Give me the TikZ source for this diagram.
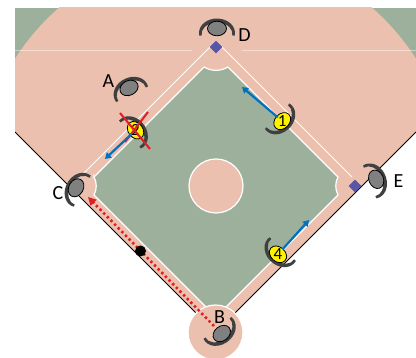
\documentclass[tikz,border=0pt]{standalone}
\usepackage{fontspec}
\setmainfont{Carlito}
\usetikzlibrary{arrows.meta}
\definecolor{grass}{RGB}{157,176,155}
\definecolor{dirt}{RGB}{236,192,174}
\definecolor{bagblue}{RGB}{90,86,166}
\definecolor{armgrey}{RGB}{64,64,64}
\definecolor{headgrey}{RGB}{128,128,128}
\definecolor{runred}{RGB}{226,30,36}
\definecolor{moveblue}{RGB}{0,112,192}
\tikzset{bag/.style = {fill=bagblue, rotate=45, minimum size=9pt, inner sep=0pt},
         chalk/.style = {draw=white, line width=1.2pt},
         letter/.style = {font=\fontsize{20}{20}\selectfont, inner sep=0pt},
         number/.style = {font=\fontsize{17}{17}\selectfont, inner sep=0pt},
         move/.style = {moveblue, line width=2.2pt, -{Triangle[length=6pt,width=7pt]}},
         run/.style = {runred, line width=2.6pt, dash pattern=on 2.4pt off 2.8pt,
                       -{Triangle[length=8pt,width=8pt]}},
         cross/.style = {runred, line width=2pt}}
% fielder: shoulders arc plus head, turned to face #3
\newcommand{\player}[5]{%
  \begin{scope}[shift={#2}, rotate=#3-90]
    \fill[armgrey] (-17.73,-2.52)
      arc[start angle=190, end angle=-10, x radius=18, y radius=14.5]
      -- (15.36,-2.52)
      arc[start angle=-7.6, end angle=187.6, x radius=15.5, y radius=11.5] -- cycle;
    \filldraw[draw=black, line width=0.8pt, fill=#4] (0,4.5) ellipse[x radius=9.5, y radius=7.3];
    \node[number] (#1) at (0,4.5) {#5};
  \end{scope}}

\begin{document}
\begin{tikzpicture}[x=1pt, y=1pt]
  \useasboundingbox (0,0) rectangle (416,358);
  \fill[white] (0,0) rectangle (416,358);

  \begin{scope}
    \clip (15,0) rectangle (416,350);
    \fill[grass] (15,0) rectangle (416,350);
    \fill[dirt] (215.5,171) circle (238);
    % foul territory
    \fill[white] (15,226) -- (215.5,25.5) -- (416,226) -- (416,0) -- (15,0) -- cycle;
    \draw[black, line width=0.9pt] (15,226) -- (215.5,25.5) -- (416,226);
    \draw[white, opacity=0.45, line width=0.8pt] (15,308) -- (192,308) (242,308) -- (416,308);
  \end{scope}

  % infield grass
  \filldraw[fill=grass, chalk]
    (94,181) -- (204,291)
    arc[start angle=239.04, end angle=300.96, radius=23.32]
    -- (338,181)
    arc[start angle=152.1, end angle=207.9, radius=19.24]
    -- (216,41) -- (94,163)
    arc[start angle=-27.9, end angle=27.9, radius=19.24]
    -- cycle;
  \filldraw[fill=dirt, chalk] (216,172) circle (27);
  \filldraw[fill=dirt, chalk] (215.5,25.5) circle (27.5);
  \draw[chalk, line width=1pt] (80,181) -- (216,317) -- (352,181);

  \node[bag] (second) at (216,311) {};
  \node[bag] (first) at (355,172) {};

  % runner to third
  \coordinate (run from) at (214,32);
  \coordinate (run to) at (88,161);
  \draw[run] (run from) -- (run to);
  \node[circle, fill=black, inner sep=0pt, minimum size=11pt] (ball) at (140.5,107) {};

  \player{D}{(217,325)}{90}{headgrey}{}
  \player{A}{(131,266)}{116}{headgrey}{}
  \player{C}{(80,168)}{151}{headgrey}{}
  \player{E}{(372,177)}{22}{headgrey}{}
  \player{B}{(219,28)}{-52}{headgrey}{}
  \player{one}{(279,240)}{-44}{yellow}{1}
  \player{two}{(132,225)}{38}{yellow}{2}
  \player{four}{(281,107)}{228}{yellow}{4}

  % player 2 is out
  \draw[cross] (120,245) -- (150,209);
  \draw[cross] (148,246) -- (125,216);

  \coordinate (one go) at (242,271);
  \coordinate (two go) at (105,199);
  \coordinate (four go) at (309,138);
  \draw[move] ([shift={(-12,6)}]one) -- (one go);
  \draw[move] ([shift={(2,-8)}]two) -- (two go);
  \draw[move] ([shift={(5,8)}]four) -- (four go);

  \node[letter] (lab A) at (108.5,276.5) {A};
  \node[letter] (lab B) at (219.5,41) {B};
  \node[letter] (lab C) at (58,165) {C};
  \node[letter] (lab D) at (244.5,323) {D};
  \node[letter] (lab E) at (398.5,177) {E};
\end{tikzpicture}
\end{document}
